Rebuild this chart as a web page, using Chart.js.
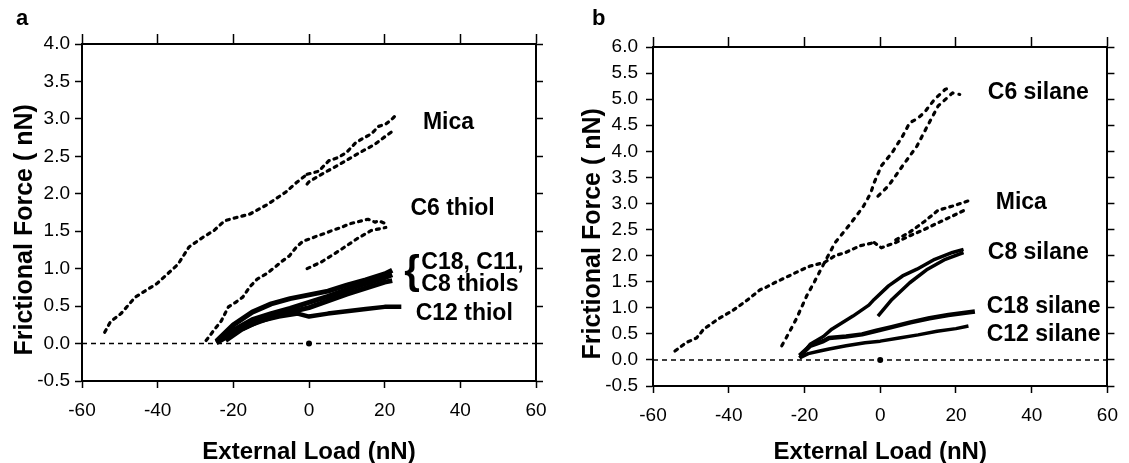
<!DOCTYPE html>
<html>
<head>
<meta charset="utf-8">
<title>Frictional force vs external load</title>
<script src="https://cdn.jsdelivr.net/npm/chart.js@4.4.0/dist/chart.umd.min.js"></script>
<style>
  body { margin: 0; background: #fff; }
  #wrap { position: relative; width: 1129px; height: 463px; overflow: hidden; }
  canvas { position: absolute; top: 0; }
  #ca { left: 0; }
  #cb { left: 560px; }
  .tag { position: absolute; top: 5px; font: bold 22px "Liberation Sans", Arial, sans-serif; }
</style>
</head>
<body>
<div id="wrap">
  <canvas id="ca" width="560" height="463"></canvas>
  <canvas id="cb" width="569" height="463"></canvas>
  <div class="tag" style="left:16px">a</div>
  <div class="tag" style="left:592px">b</div>
</div>
<script>
// axis ranges
const loadRange = [-60, 60];
const forceRangeA = [-0.5, 4.0];
const forceRangeB = [-0.5, 6.0];

// ---- panel a : thiols ----
const micaA_load1 = [-54.0, -52.5, -49.7, -45.9, -43.1, -40.2, -37.4, -34.6, -31.7, -28.0, -25.1, -22.3, -19.4, -15.6, -10.9, -6.2, -3.3, -0.5];
const micaA_force1 = [0.15, 0.29, 0.40, 0.62, 0.71, 0.80, 0.93, 1.06, 1.29, 1.42, 1.51, 1.64, 1.68, 1.73, 1.86, 2.02, 2.15, 2.26];
const micaA_load2 = [-0.5, 2.5, 5.2, 7.5, 9.9, 12.3, 14.6, 16.5, 18.4, 20.3, 22.2, 23.1];
const micaA_force2 = [2.26, 2.30, 2.44, 2.48, 2.55, 2.68, 2.75, 2.80, 2.90, 2.93, 3.01, 3.06];
const micaA_load3 = [-0.5, 0.0, 3.3, 8.0, 12.7, 17.4, 20.0, 22.2];
const micaA_force3 = [2.13, 2.16, 2.26, 2.39, 2.53, 2.66, 2.76, 2.84];

const c6A_load1 = [-27.2, -25.1, -23.2, -21.3, -19.4, -17.5, -15.6, -13.7, -11.3, -9.0, -7.1, -5.2, -3.3, -1.5, 0.4, 2.3, 4.2, 6.1, 8.5, 10.8, 13.2, 15.6, 17.5, 18.4, 20.3];
const c6A_force1 = [0.04, 0.18, 0.30, 0.49, 0.55, 0.62, 0.76, 0.86, 0.93, 1.02, 1.10, 1.17, 1.29, 1.37, 1.40, 1.44, 1.47, 1.51, 1.55, 1.60, 1.63, 1.66, 1.62, 1.64, 1.60];
const c6A_load2 = [-0.5, 3.3, 8.0, 12.7, 16.5, 20.3];
const c6A_force2 = [1.00, 1.09, 1.24, 1.40, 1.51, 1.55];

const thiolLoad = [-24.5, -20, -15, -10, -5, 0, 5, 10, 15, 20, 22];
const c18A_force = [0.03, 0.25, 0.42, 0.53, 0.60, 0.65, 0.70, 0.78, 0.85, 0.93, 0.98];
const c11A_force = [0.02, 0.18, 0.32, 0.40, 0.47, 0.55, 0.63, 0.72, 0.80, 0.88, 0.92];
const c8A_force = [0.01, 0.14, 0.26, 0.35, 0.42, 0.48, 0.57, 0.66, 0.74, 0.82, 0.84];
const c12A_load = [-22, -18, -13, -8, -3, 0, 5, 10, 15, 20, 24.4];
const c12A_force = [0.04, 0.18, 0.30, 0.36, 0.40, 0.36, 0.40, 0.43, 0.46, 0.49, 0.49];

// ---- panel b : silanes ----
const micaB_load1 = [-54.2, -51.3, -48.5, -46.6, -42.9, -39.1, -35.4, -31.6, -30.5, -27.9, -24.1, -21.3, -18.5, -14.7, -11.9, -9.1, -5.3, -1.6];
const micaB_force1 = [0.17, 0.33, 0.42, 0.59, 0.78, 0.94, 1.13, 1.35, 1.38, 1.48, 1.61, 1.71, 1.80, 1.87, 2.00, 2.06, 2.19, 2.25];
const micaB_load2 = [-1.6, 0.3, 4.1, 7.8, 11.6, 15.3, 19.1, 22.8];
const micaB_force2 = [2.25, 2.15, 2.25, 2.38, 2.50, 2.63, 2.76, 2.89];
const micaB_load3 = [4.1, 7.8, 11.6, 15.3, 19.1, 23.3];
const micaB_force3 = [2.30, 2.45, 2.65, 2.87, 2.95, 3.05];

const c6B_load1 = [-26.0, -24.1, -22.2, -19.4, -17.5, -14.7, -11.9, -9.1, -6.3, -4.4, -2.5, -1.6, 0.3, 3.1, 5.9, 7.8, 9.7, 11.6, 14.4, 17.2, 18.6];
const c6B_force1 = [0.27, 0.52, 0.78, 1.23, 1.48, 1.87, 2.25, 2.50, 2.76, 2.95, 3.20, 3.40, 3.72, 3.97, 4.29, 4.55, 4.62, 4.74, 5.00, 5.19, 5.22];
const c6B_load2 = [-0.6, 2.2, 5.9, 9.7, 12.5, 15.3, 19.1, 21.0];
const c6B_force2 = [3.14, 3.34, 3.72, 4.10, 4.49, 4.87, 5.12, 5.09];

const c8B_load1 = [-21.3, -18.5, -15.0, -12.8, -7.2, -3.0, -1.6, 2.2, 5.9, 9.7, 14.4, 19.1, 22.0];
const c8B_force1 = [0.04, 0.30, 0.45, 0.59, 0.84, 1.05, 1.16, 1.42, 1.61, 1.74, 1.93, 2.06, 2.12];
const c8B_load2 = [-0.6, 3.1, 7.8, 12.5, 17.2, 22.0];
const c8B_force2 = [0.84, 1.16, 1.48, 1.74, 1.93, 2.06];

const c18B_load = [-21.3, -18.5, -15.0, -13.5, -9.0, -4.8, -1.0, 3.0, 8.0, 13.0, 18.0, 22.0, 25.0];
const c18B_force = [0.08, 0.27, 0.36, 0.42, 0.45, 0.49, 0.56, 0.63, 0.72, 0.80, 0.86, 0.90, 0.93];
const c12B_load = [-21.3, -19.0, -16.0, -13.5, -9.0, -4.0, 0.0, 5.0, 10.0, 15.0, 20.0, 23.3];
const c12B_force = [0.04, 0.12, 0.17, 0.21, 0.27, 0.33, 0.36, 0.42, 0.48, 0.55, 0.60, 0.65];

// labels next to the curves: [text, load, force]
const notesA = [
  ['Mica', 30.1, 2.95],
  ['C6 thiol', 26.8, 1.80],
  ['{', 25.2, 0.94],
  ['C18, C11,', 29.7, 1.08],
  ['C8 thiols', 29.7, 0.79],
  ['C12 thiol', 28.2, 0.40]
];
const notesB = [
  ['C6 silane', 28.4, 5.12],
  ['Mica', 30.5, 3.02],
  ['C8 silane', 28.4, 2.06],
  ['C18 silane', 28.1, 1.02],
  ['C12 silane', 28.1, 0.49]
];

const FONT = '"Liberation Sans", Arial, sans-serif';
Chart.defaults.font.family = FONT;
Chart.defaults.color = '#000';

function trace(xs, ys, width, dash) {
  return {
    data: xs.map((x, i) => ({ x: x, y: ys[i] })),
    showLine: true,
    borderColor: '#000',
    backgroundColor: '#000',
    borderWidth: width,
    borderDash: dash || [],
    borderCapStyle: dash ? 'round' : 'butt',
    borderJoinStyle: 'round',
    pointRadius: 0,
    xAxisID: 'x',
    yAxisID: 'y'
  };
}

function zeroLine() {
  return {
    data: [{ x: loadRange[0], y: 0 }, { x: loadRange[1], y: 0 }],
    showLine: true,
    borderColor: '#000',
    borderWidth: 1.5,
    borderDash: [5, 4],
    pointRadius: 0,
    xAxisID: 'x',
    yAxisID: 'y'
  };
}

function originDot() {
  return {
    data: [{ x: 0, y: 0 }],
    showLine: false,
    pointRadius: 3,
    pointBackgroundColor: '#000',
    pointBorderWidth: 0,
    xAxisID: 'x',
    yAxisID: 'y'
  };
}

function notesPlugin(notes) {
  return {
    id: 'notes',
    afterDatasetsDraw(chart) {
      const ctx = chart.ctx;
      const xs = chart.scales.x, ys = chart.scales.y;
      ctx.save();
      ctx.fillStyle = '#000';
      ctx.textAlign = 'left';
      ctx.textBaseline = 'middle';
      notes.forEach(n => {
        ctx.font = n[0] === '{' ? 'bold 40px ' + FONT : 'bold 23px ' + FONT;
        ctx.fillText(n[0], xs.getPixelForValue(n[1]), ys.getPixelForValue(n[2]));
      });
      ctx.restore();
    }
  };
}

function makePanel(id, datasets, notes, forceRange, box) {
  const tickGrid = (len) => ({
    drawOnChartArea: false,
    drawTicks: true,
    tickLength: len,
    tickColor: '#000',
    tickWidth: 1.5,
    color: '#000'
  });
  const frame = { display: true, color: '#000', width: 2 };

  new Chart(document.getElementById(id), {
    type: 'scatter',
    data: { datasets: datasets },
    plugins: [notesPlugin(notes)],
    options: {
      responsive: false,
      animation: false,
      layout: { padding: { left: 0, top: box.top - 10, right: box.right - 8, bottom: 0 } },
      plugins: { legend: { display: false }, tooltip: { enabled: false } },
      scales: {
        x: {
          type: 'linear', position: 'bottom',
          min: loadRange[0], max: loadRange[1],
          ticks: { stepSize: 20, padding: 11, font: { size: 19 }, color: '#000' },
          grid: tickGrid(7),
          border: frame,
          title: {
            display: true, text: 'External Load (nN)', color: '#000', padding: 0,
            font: { size: 24, weight: 'bold', lineHeight: 0.9 }
          },
          afterFit: s => { s.height = box.bottom; }
        },
        x2: {
          type: 'linear', position: 'top',
          min: loadRange[0], max: loadRange[1],
          ticks: { display: false, stepSize: 20 },
          grid: tickGrid(10),
          border: frame,
          afterFit: s => { s.height = 10; }
        },
        y: {
          type: 'linear', position: 'left',
          min: forceRange[0], max: forceRange[1],
          ticks: {
            stepSize: 0.5, padding: box.tickPad, font: { size: 19 }, color: '#000',
            callback: v => v.toFixed(1)
          },
          grid: tickGrid(7),
          border: frame,
          title: {
            display: true, text: 'Frictional Force ( nN)     ', color: '#000',
            padding: { top: box.titlePad, bottom: 0 },
            font: { size: 25, weight: 'bold', lineHeight: 1.2 }
          },
          afterFit: s => { s.width = box.left; }
        },
        y2: {
          type: 'linear', position: 'right',
          min: forceRange[0], max: forceRange[1],
          ticks: { display: false, stepSize: 0.5 },
          grid: tickGrid(7),
          border: frame,
          afterFit: s => { s.width = 8; }
        }
      }
    }
  });
}

const dot = [3, 5];

makePanel('ca', [
  zeroLine(),
  trace(micaA_load1, micaA_force1, 3.2, dot),
  trace(micaA_load2, micaA_force2, 3.2, dot),
  trace(micaA_load3, micaA_force3, 3.2, dot),
  trace(c6A_load1, c6A_force1, 3.2, dot),
  trace(c6A_load2, c6A_force2, 3.2, dot),
  trace(thiolLoad, c18A_force, 5),
  trace(thiolLoad, c11A_force, 5),
  trace(thiolLoad, c8A_force, 5),
  trace(c12A_load, c12A_force, 4.5),
  originDot()
], notesA, forceRangeA, { left: 82, top: 44, right: 24, bottom: 82, tickPad: 5, titlePad: 10 });

makePanel('cb', [
  zeroLine(),
  trace(micaB_load1, micaB_force1, 3.2, dot),
  trace(micaB_load2, micaB_force2, 3.2, dot),
  trace(micaB_load3, micaB_force3, 3.2, dot),
  trace(c6B_load1, c6B_force1, 3.2, [3, 6]),
  trace(c6B_load2, c6B_force2, 3.2, [3, 6]),
  trace(c8B_load1, c8B_force1, 3.5),
  trace(c8B_load2, c8B_force2, 3.5),
  trace(c18B_load, c18B_force, 4.5),
  trace(c12B_load, c12B_force, 3.5),
  originDot()
], notesB, forceRangeB, { left: 93, top: 47, right: 12, bottom: 77, tickPad: 8, titlePad: 18 });
</script>
</body>
</html>
